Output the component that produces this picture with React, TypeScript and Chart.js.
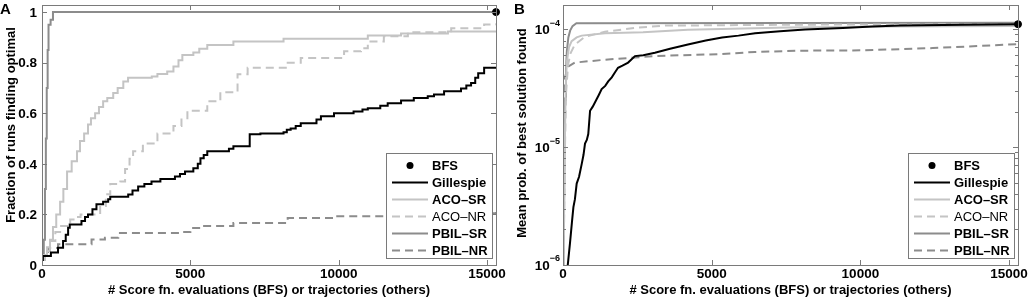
import React, { useEffect, useRef } from "react";
import { Chart, registerables } from "chart.js";
Chart.register(...registerables);

// ---------- shared axis data ----------
const X_MAX = 15300;
const X_TICKS = [0, 5000, 10000, 15000];
const X_TICK_LABELS = ["0", "5000", "10000", "15000"];
const Y_TICKS_A = [0, 0.2, 0.4, 0.6, 0.8, 1];
const Y_TICK_LABELS_A = ["0", "0.2", "0.4", "0.6", "0.8", "1"];
const Y_TICKS_B = [1e-6, 1e-5, 1e-4];
const Y_TICK_EXP_B = ["\u22126", "\u22125", "\u22124"];
const X_TITLE = "# Score fn. evaluations (BFS) or trajectories (others)";
const Y_TITLE_A = "Fraction of runs finding optimal";
const Y_TITLE_B = "Mean prob. of best solution found";

const SERIES_LABELS = ["BFS", "Gillespie", "ACO\u2013SR", "ACO\u2013NR", "PBIL\u2013SR", "PBIL\u2013NR"];
const LABEL_BOLD = [true, true, true, false, true, true];

// ---------- panel A: fraction of runs finding optimal ----------
const bfsA: [number, number][] = [[15300, 1]];
const gillespieA: [number, number][] = [
  [0, 0.02], [30, 0.036], [300, 0.049], [540, 0.068], [710, 0.095], [800, 0.12], [880, 0.147],
  [935, 0.16], [1330, 0.174], [1450, 0.19], [1550, 0.2], [1700, 0.22], [1835, 0.24], [2060, 0.25],
  [2230, 0.26], [2300, 0.27], [2905, 0.279], [3050, 0.295], [3240, 0.31], [3450, 0.32], [3690, 0.33],
  [3990, 0.34], [4480, 0.35], [4650, 0.36], [4820, 0.37], [5100, 0.383], [5250, 0.4], [5340, 0.422],
  [5450, 0.435], [5570, 0.45], [6300, 0.46], [6450, 0.47], [7000, 0.517], [7360, 0.52], [8140, 0.525],
  [8250, 0.535], [8380, 0.54], [8550, 0.55], [8720, 0.56], [9250, 0.575], [9400, 0.588], [9840, 0.6],
  [10500, 0.607], [10800, 0.615], [10980, 0.62], [11400, 0.63], [11650, 0.64], [12100, 0.65],
  [12530, 0.66], [13000, 0.667], [13210, 0.674], [13550, 0.687], [14120, 0.698], [14300, 0.71],
  [14460, 0.72], [14600, 0.74], [14700, 0.758], [14900, 0.78], [15300, 0.78],
];
const acoSrA: [number, number][] = [
  [0, 0.02], [60, 0.04], [170, 0.055], [270, 0.1], [370, 0.15], [480, 0.2], [610, 0.25], [720, 0.3],
  [845, 0.37], [1000, 0.41], [1180, 0.45], [1280, 0.49], [1420, 0.52], [1550, 0.556], [1650, 0.58],
  [1790, 0.6], [1920, 0.625], [2060, 0.647], [2200, 0.66], [2400, 0.68], [2550, 0.7], [2740, 0.726],
  [2900, 0.74], [3700, 0.745], [3890, 0.755], [4220, 0.765], [4430, 0.785], [4600, 0.81], [4730, 0.83],
  [5100, 0.84], [5300, 0.855], [5570, 0.87], [6450, 0.884], [8140, 0.895], [10980, 0.907],
  [12100, 0.915], [13680, 0.923], [15300, 0.923],
];
const acoNrA: [number, number][] = [
  [0, 0.02], [100, 0.04], [170, 0.07], [270, 0.095], [450, 0.13], [610, 0.154], [950, 0.18],
  [1100, 0.19], [1300, 0.2], [1960, 0.233], [2150, 0.28], [2300, 0.32], [2640, 0.33], [2800, 0.38],
  [2950, 0.42], [3070, 0.45], [3400, 0.48], [3890, 0.52], [4430, 0.55], [4700, 0.58], [4900, 0.61],
  [5570, 0.647], [6010, 0.683], [6590, 0.754], [6930, 0.78], [8280, 0.8], [8720, 0.818],
  [10180, 0.845], [10750, 0.857], [10980, 0.884], [11520, 0.904], [12330, 0.92], [13790, 0.936],
  [14900, 0.951], [15300, 0.955],
];
const pbilSrA: [number, number][] = [
  [0, 0.02], [60, 0.1], [100, 0.3], [130, 0.5], [160, 0.7], [190, 0.85], [220, 0.95], [290, 0.97],
  [370, 1.0], [15300, 1.0],
];
const pbilNrA: [number, number][] = [
  [0, 0.02], [100, 0.04], [200, 0.067], [540, 0.082], [1670, 0.101], [2120, 0.108], [2570, 0.127],
  [4660, 0.13], [5000, 0.146], [5340, 0.154], [6450, 0.166], [8280, 0.186], [9840, 0.193],
  [11900, 0.197], [13000, 0.205], [15300, 0.215],
];

// ---------- panel B: mean probability of best solution found ----------
const bfsB: [number, number][] = [[15300, 1.1e-4]];
const gillespieB: [number, number][] = [
  [100, 5e-7], [160, 1e-6], [235, 1.53e-6], [300, 2.3e-6], [350, 3.1e-6], [400, 3.6e-6],
  [460, 4.9e-6], [540, 5.6e-6], [630, 7.2e-6], [690, 8.6e-6], [740, 1.07e-5], [800, 1.15e-5],
  [850, 1.29e-5], [910, 2.03e-5], [1000, 2.2e-5], [1130, 2.54e-5], [1200, 2.75e-5], [1300, 3.1e-5],
  [1420, 3.3e-5], [1520, 3.6e-5], [1640, 3.9e-5], [1750, 4.3e-5], [1850, 4.7e-5], [2000, 4.9e-5],
  [2190, 5.2e-5], [2420, 5.9e-5], [2700, 6.0e-5], [3090, 6.3e-5], [3600, 6.8e-5], [4200, 7.4e-5],
  [4800, 8.0e-5], [5350, 8.5e-5], [5900, 8.8e-5], [6460, 9.2e-5], [7300, 9.6e-5], [8140, 9.9e-5],
  [9410, 1.02e-4], [10400, 1.05e-4], [11330, 1.07e-4], [13500, 1.09e-4], [15300, 1.1e-4],
];
const acoSrB: [number, number][] = [
  [0, 5e-7], [30, 2e-6], [60, 1e-5], [90, 3e-5], [125, 5.2e-5], [200, 7e-5], [290, 7.9e-5],
  [460, 8.5e-5], [630, 8.8e-5], [1410, 9.2e-5], [2690, 9.4e-5], [4200, 9.85e-5], [7560, 1.03e-4],
  [11000, 1.05e-4], [15300, 1.06e-4],
];
const acoNrB: [number, number][] = [
  [0, 5e-7], [30, 1.5e-6], [60, 8e-6], [100, 2.8e-5], [170, 5e-5], [260, 6.3e-5], [400, 7.4e-5],
  [740, 8.6e-5], [1410, 9.5e-5], [2520, 1.03e-4], [3430, 1.07e-4], [8000, 1.09e-4], [15300, 1.1e-4],
];
const pbilSrB: [number, number][] = [
  [0, 5e-7], [30, 2e-6], [50, 1e-5], [70, 2.5e-5], [100, 4.5e-5], [130, 6.5e-5], [180, 8.5e-5],
  [240, 9.7e-5], [320, 1.06e-4], [450, 1.12e-4], [15300, 1.13e-4],
];
const pbilNrB: [number, number][] = [
  [0, 5e-7], [20, 3e-6], [40, 1.5e-5], [67, 3.9e-5], [170, 4.8e-5], [400, 5.2e-5], [1410, 5.5e-5],
  [3090, 5.9e-5], [5350, 6.15e-5], [6460, 6.4e-5], [7970, 6.56e-5], [10000, 6.6e-5],
  [12440, 6.9e-5], [15300, 7.45e-5],
];

// ---------- styles ----------
const FONT = '"Liberation Sans", Arial, Helvetica, sans-serif';
const FRAME = "#7a7a7a";
const BLACK = "#000000";
const LIGHT = "#c4c4c4";
const MID = "#8c8c8c";
const DASH = [8, 5];

const pts = (a: [number, number][]) => a.map(([x, y]) => ({ x, y }));

function makeDatasets(series: [number, number][][], steppedFlags: boolean[]) {
  const colors = [BLACK, BLACK, LIGHT, LIGHT, MID, MID];
  const dashed = [false, false, false, true, false, true];
  return series.map((s, i) => {
    if (i === 0) {
      return {
        label: SERIES_LABELS[i],
        data: pts(s),
        showLine: false,
        pointRadius: 3.5,
        pointBackgroundColor: BLACK,
        pointBorderColor: BLACK,
        borderColor: BLACK,
        clip: false as any,
      };
    }
    return {
      label: SERIES_LABELS[i],
      data: pts(s),
      borderColor: colors[i],
      borderWidth: 2,
      borderDash: dashed[i] ? DASH : [],
      pointRadius: 0,
      stepped: steppedFlags[i] ? true : false,
      tension: 0,
      fill: false,
    };
  });
}

type PanelCfg = {
  letter: string;
  log: boolean;
  yTitle: string;
  yTitleX: number;
  yTitleY: number;
};

function framePlugin(cfg: PanelCfg) {
  return {
    id: "frame" + cfg.letter,
    beforeDatasetsDraw(chart: any) {
      const ctx = chart.ctx as CanvasRenderingContext2D;
      const a = chart.chartArea;
      ctx.save();
      ctx.fillStyle = "#ffffff";
      ctx.fillRect(a.left, a.top, a.right - a.left, a.bottom - a.top);
      ctx.restore();
    },
    afterDatasetsDraw(chart: any) {
      const ctx = chart.ctx as CanvasRenderingContext2D;
      const a = chart.chartArea;
      const xs = chart.scales.x;
      const ys = chart.scales.y;
      ctx.save();
      // frame
      ctx.strokeStyle = FRAME;
      ctx.lineWidth = 1;
      ctx.strokeRect(Math.round(a.left) + 0.5, Math.round(a.top) + 0.5,
        Math.round(a.right - a.left), Math.round(a.bottom - a.top));
      // ticks
      const L = 5;
      ctx.beginPath();
      X_TICKS.forEach((v) => {
        const px = Math.round(xs.getPixelForValue(v)) + 0.5;
        ctx.moveTo(px, a.bottom); ctx.lineTo(px, a.bottom - L);
        ctx.moveTo(px, a.top); ctx.lineTo(px, a.top + L);
      });
      const yt = cfg.log ? Y_TICKS_B : Y_TICKS_A;
      yt.forEach((v) => {
        const py = Math.round(ys.getPixelForValue(v)) + 0.5;
        ctx.moveTo(a.left, py); ctx.lineTo(a.left + L, py);
        ctx.moveTo(a.right, py); ctx.lineTo(a.right - L, py);
      });
      if (cfg.log) {
        Y_TICKS_B.forEach((d) => {
          for (let k = 2; k <= 9; k++) {
            const v = d * k;
            if (v > ys.max) continue;
            const py = Math.round(ys.getPixelForValue(v)) + 0.5;
            ctx.moveTo(a.left, py); ctx.lineTo(a.left + 3, py);
            ctx.moveTo(a.right, py); ctx.lineTo(a.right - 3, py);
          }
        });
      }
      ctx.stroke();

      // tick labels
      ctx.fillStyle = "#000";
      ctx.font = `bold 13.5px ${FONT}`;
      ctx.textAlign = "center";
      ctx.textBaseline = "top";
      X_TICKS.forEach((v, i) => {
        ctx.fillText(X_TICK_LABELS[i], xs.getPixelForValue(v), a.bottom + 3);
      });
      if (!cfg.log) {
        ctx.textAlign = "right";
        ctx.textBaseline = "middle";
        Y_TICKS_A.forEach((v, i) => {
          ctx.fillText(Y_TICK_LABELS_A[i], a.left - 5, ys.getPixelForValue(v) + 1);
        });
      } else {
        Y_TICKS_B.forEach((v, i) => {
          const py = ys.getPixelForValue(v);
          ctx.font = `bold 9px ${FONT}`;
          ctx.textAlign = "right";
          ctx.textBaseline = "middle";
          const ew = ctx.measureText(Y_TICK_EXP_B[i]).width;
          ctx.fillText(Y_TICK_EXP_B[i], a.left - 3, py - 6);
          ctx.font = `bold 13.5px ${FONT}`;
          ctx.fillText("10", a.left - 3 - ew, py + 1);
        });
      }

      // axis titles
      ctx.font = `bold 13px ${FONT}`;
      ctx.textAlign = "center";
      ctx.textBaseline = "middle";
      ctx.fillText(X_TITLE, (a.left + a.right) / 2, 290);
      ctx.save();
      ctx.translate(cfg.yTitleX, cfg.yTitleY);
      ctx.rotate(-Math.PI / 2);
      ctx.fillText(cfg.yTitle, 0, 0);
      ctx.restore();

      // panel letter
      ctx.font = `bold 15px ${FONT}`;
      ctx.textAlign = "left";
      ctx.textBaseline = "top";
      ctx.fillText(cfg.letter, 0, 2);

      // legend
      const w = 106, h = 105;
      const right = Math.round(a.right) - 4;
      const left = right - w;
      const top = 153;
      ctx.fillStyle = "#fff";
      ctx.fillRect(left, top, w, h);
      ctx.strokeStyle = FRAME;
      ctx.lineWidth = 1;
      ctx.setLineDash([]);
      ctx.strokeRect(left + 0.5, top + 0.5, w, h);
      chart.data.datasets.forEach((ds: any, i: number) => {
        const y = top + 12.5 + i * 17;
        if (i === 0) {
          ctx.beginPath();
          ctx.fillStyle = BLACK;
          ctx.arc(left + 24, y, 3.5, 0, Math.PI * 2);
          ctx.fill();
        } else {
          ctx.beginPath();
          ctx.strokeStyle = ds.borderColor;
          ctx.lineWidth = ds.borderWidth;
          ctx.setLineDash(ds.borderDash || []);
          ctx.moveTo(left + 6, y);
          ctx.lineTo(left + 42, y);
          ctx.stroke();
          ctx.setLineDash([]);
        }
        ctx.fillStyle = "#000";
        ctx.font = `${LABEL_BOLD[i] ? "bold " : ""}13px ${FONT}`;
        ctx.textAlign = "left";
        ctx.textBaseline = "middle";
        ctx.fillText(SERIES_LABELS[i], left + 46, y + 1);
      });
      ctx.restore();
    },
  };
}

function Panel(props: {
  cfg: PanelCfg;
  series: [number, number][][];
  stepped: boolean[];
  padding: { left: number; right: number; top: number; bottom: number };
  yMin: number;
  yMax: number;
  style: React.CSSProperties;
}) {
  const ref = useRef<HTMLCanvasElement | null>(null);
  useEffect(() => {
    if (!ref.current) return;
    const chart = new Chart(ref.current, {
      type: "line",
      data: { datasets: makeDatasets(props.series, props.stepped) as any },
      options: {
        animation: false,
        responsive: false,
        maintainAspectRatio: false,
        layout: { padding: props.padding },
        plugins: { legend: { display: false }, tooltip: { enabled: false } },
        scales: {
          x: { type: "linear", min: 0, max: X_MAX, display: false },
          y: {
            type: props.cfg.log ? "logarithmic" : "linear",
            min: props.yMin,
            max: props.yMax,
            display: false,
          },
        },
      } as any,
      plugins: [framePlugin(props.cfg)],
    });
    return () => chart.destroy();
  }, []);
  return <canvas ref={ref} width={514} height={299} style={props.style} />;
}

export default function App() {
  useEffect(() => {
    document.body.style.margin = "0";
    document.body.style.background = "#fff";
  }, []);
  return (
    <div style={{ position: "relative", width: 1028, height: 299, background: "#fff" }}>
      <Panel
        cfg={{ letter: "A", log: false, yTitle: Y_TITLE_A, yTitleX: 11.5, yTitleY: 125 }}
        series={[bfsA, gillespieA, acoSrA, acoNrA, pbilSrA, pbilNrA]}
        stepped={[false, true, true, true, true, true]}
        padding={{ left: 42, right: 18, top: 3.5, bottom: 34 }}
        yMin={0}
        yMax={1.028}
        style={{ position: "absolute", left: 0, top: 0, display: "block" }}
      />
      <Panel
        cfg={{ letter: "B", log: true, yTitle: Y_TITLE_B, yTitleX: 8.5, yTitleY: 133 }}
        series={[bfsB, gillespieB, acoSrB, acoNrB, pbilSrB, pbilNrB]}
        stepped={[false, false, false, false, false, false]}
        padding={{ left: 49, right: 10, top: 3, bottom: 34 }}
        yMin={1e-6}
        yMax={1.6e-4}
        style={{ position: "absolute", left: 514, top: 0, display: "block" }}
      />
    </div>
  );
}
